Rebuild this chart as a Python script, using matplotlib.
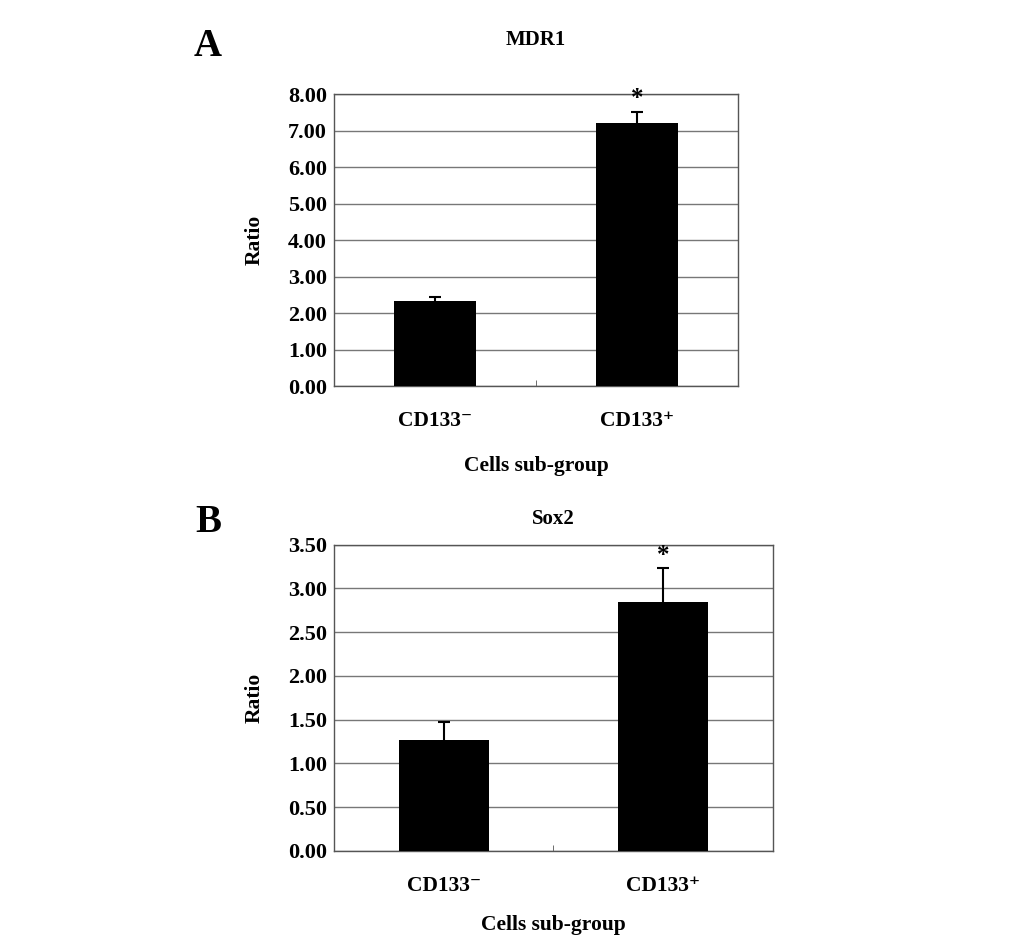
import matplotlib
matplotlib.use("Agg")
import matplotlib.pyplot as plt
import numpy as np

plt.rcParams['font.family'] = ['Liberation Serif', 'DejaVu Serif']
plt.rcParams['font.weight'] = 'bold'

groups = ["CD133\u207b", "CD133\u207a"]

mdr1_mean = [2.34, 7.20]
mdr1_err = [0.10, 0.32]

sox2_mean = [1.27, 2.85]
sox2_err = [0.20, 0.38]

fig = plt.figure(figsize=(10.33, 9.44), dpi=100)
axA = fig.add_axes([0.3233, 0.5911, 0.3911, 0.3093])
axB = fig.add_axes([0.3233, 0.0988, 0.4250, 0.3242])


def draw_panel(ax, means, errs, title, ymax, step, title_pad, xlab_pad):
    x = np.arange(len(groups))
    ax.bar(x, means, width=0.41, color='black', zorder=3)
    eb = ax.errorbar(x, means, yerr=[np.zeros(len(errs)), errs], fmt='none',
                     ecolor='black', elinewidth=1.5, capsize=4.5, capthick=1.5, zorder=4)
    eb[1][0].set_visible(False)  # no cap at the bar top
    # significance star over the second group
    ax.annotate('*', xy=(x[1], means[1] + errs[1]), xytext=(0, 1),
                textcoords='offset points', ha='center', va='bottom',
                fontsize=18, fontweight='bold')
    ax.set_xlim(-0.5, 1.5)
    ax.set_ylim(0, ymax)
    ticks = np.arange(0, ymax + step / 2, step)
    ax.set_yticks(ticks)
    ax.set_yticklabels(["%.2f" % t for t in ticks], fontsize=16, fontweight='bold')
    ax.yaxis.grid(True, color='#777777', linewidth=1.0, zorder=0)
    ax.set_xticks(x)
    ax.set_xticklabels(groups, fontsize=15.5, fontweight='bold')
    ax.tick_params(axis='x', length=0, pad=18)
    ax.tick_params(axis='y', length=0, pad=5)
    ax.set_xticks([0.5], minor=True)
    ax.tick_params(axis='x', which='minor', direction='in', length=4, color='#555555')
    for sp in ax.spines.values():
        sp.set_color('#555555')
        sp.set_linewidth(1.0)
    ax.set_ylabel('Ratio', fontsize=15.5, fontweight='bold', labelpad=17)
    ax.set_xlabel('Cells sub-group', fontsize=15.5, fontweight='bold', labelpad=xlab_pad)
    ax.set_title(title, fontsize=15, fontweight='bold', pad=title_pad)


draw_panel(axA, mdr1_mean, mdr1_err, 'MDR1', 8.0, 1.0, 35, 18)
draw_panel(axB, sox2_mean, sox2_err, 'Sox2', 3.5, 0.5, 15, 14)

fig.text(208 / 1033, 1 - 47 / 944, 'A', fontsize=28, fontweight='bold', ha='center', va='center')
fig.text(208 / 1033, 1 - 522 / 944, 'B', fontsize=28, fontweight='bold', ha='center', va='center')

fig.savefig('out.png', dpi=100)
plt.close(fig)
